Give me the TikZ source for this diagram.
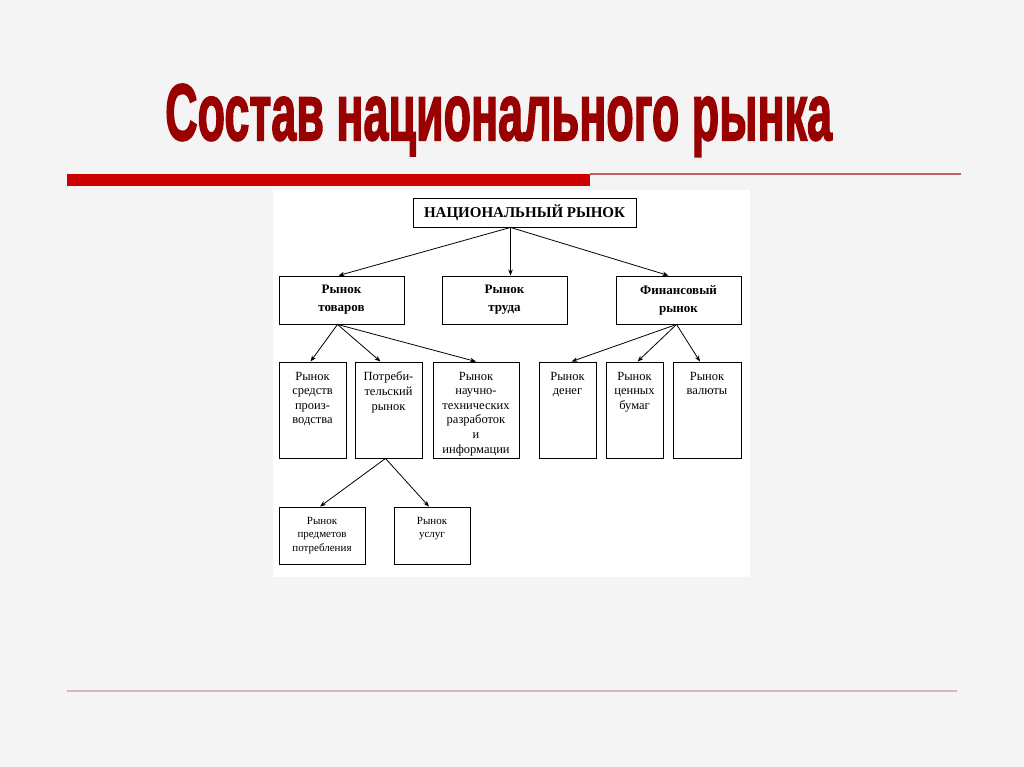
\documentclass[tikz,border=0pt]{standalone}
\usepackage{fontspec}
\setmainfont{Liberation Serif}
\newfontfamily\titlefont[FakeBold=2.5]{Liberation Sans Bold}
\usetikzlibrary{arrows.meta}
\definecolor{bg}{HTML}{F4F4F4}
\definecolor{titlered}{HTML}{990000}
\definecolor{barred}{HTML}{CC0000}
\definecolor{thinred}{HTML}{C06060}
\definecolor{footline}{HTML}{D6B8B8}
\newcommand\topcell[4]{\parbox[c][#2][t]{#1}{\centering\vspace*{#3}#4}}
\begin{document}
\begin{tikzpicture}[x=1pt,y=-1pt,
  box/.style={draw=black,line width=0.9pt,fill=white,inner sep=0pt,align=center},
  lvltop/.style={box,minimum width=223pt,minimum height=29pt,font=\bfseries\fontsize{15}{17}\selectfont},
  lvl2/.style={box,minimum width=125pt,minimum height=48pt,font=\bfseries\fontsize{13}{18}\selectfont},
  lvl3/.style={box,font=\fontsize{12.5}{14.6}\selectfont},
  lvl4/.style={box,font=\fontsize{11}{13.5}\selectfont},
  arr/.style={line width=0.8pt,-{Stealth[length=6pt,width=4.5pt]}}]
\fill[bg] (0,0) rectangle (1024,767);
\useasboundingbox (0,0) rectangle (1024,767);
% title
\node[anchor=base west,inner sep=0pt,text=titlered] (title) at (165,140)
  {\titlefont\fontsize{80}{80}\selectfont\scalebox{0.561}[1]{Состав национального рынка}};
% decorative lines
\fill[barred] (67,174) rectangle (590,186);
\draw[thinred,line width=1.5pt] (590,174) -- (961,174);
\draw[footline,line width=1.5pt] (67,691) -- (957,691);
% white panel
\fill[white] (273,190) rectangle (750,577);
% nodes
\node[lvltop] (nat) at (524.5,212.5) {НАЦИОНАЛЬНЫЙ РЫНОК};
\node[lvl2] (tov) at (341.5,300) {Рынок\\товаров};
\node[lvl2] (trud) at (504.5,300) {Рынок\\труда};
\node[lvl2] (fin) at (678.5,300) {Финансовый\\рынок};
\node[lvl3] (sred) at (312.5,410) {\topcell{67pt}{96pt}{10pt}{Рынок\\средств\\произ-\\водства}};
\node[lvl3] (potr) at (388.5,410) {\topcell{67pt}{96pt}{10pt}{Потреби-\\тельский\\рынок}};
\node[lvl3] (nauch) at (476,410) {\topcell{86pt}{96pt}{10pt}{Рынок\\научно-\\технических\\разработок\\и\\информации}};
\node[lvl3] (deng) at (567.5,410) {\topcell{57pt}{96pt}{10pt}{Рынок\\денег}};
\node[lvl3] (cen) at (634.5,410) {\topcell{57pt}{96pt}{10pt}{Рынок\\ценных\\бумаг}};
\node[lvl3] (val) at (707,410) {\topcell{68pt}{96pt}{10pt}{Рынок\\валюты}};
\node[lvl4] (pred) at (322,535.5) {\topcell{86pt}{57pt}{10pt}{Рынок\\предметов\\потребления}};
\node[lvl4] (usl) at (432,535.5) {\topcell{76pt}{57pt}{10pt}{Рынок\\услуг}};
% connectors
\coordinate (natout) at ([xshift=-14pt]nat.south);
\draw[arr] (natout) -- ([xshift=-3pt]tov.north);
\draw[arr] (natout) -- ([xshift=6pt]trud.north);
\draw[arr] (natout) -- ([xshift=-10pt]fin.north);
\coordinate (tovout) at ([xshift=-4pt]tov.south);
\draw[arr] (tovout) -- ([xshift=-2pt]sred.north);
\draw[arr] (tovout) -- ([xshift=-8pt]potr.north);
\draw[arr] (tovout) -- (nauch.north);
\coordinate (finout) at ([xshift=-2pt]fin.south);
\draw[arr] (finout) -- ([xshift=4pt]deng.north);
\draw[arr] (finout) -- ([xshift=3pt]cen.north);
\draw[arr] (finout) -- ([xshift=-7pt]val.north);
\coordinate (potrout) at ([xshift=-3pt]potr.south);
\draw[arr] (potrout) -- ([xshift=-2pt]pred.north);
\draw[arr] (potrout) -- ([xshift=-3pt]usl.north);
\end{tikzpicture}
\end{document}
